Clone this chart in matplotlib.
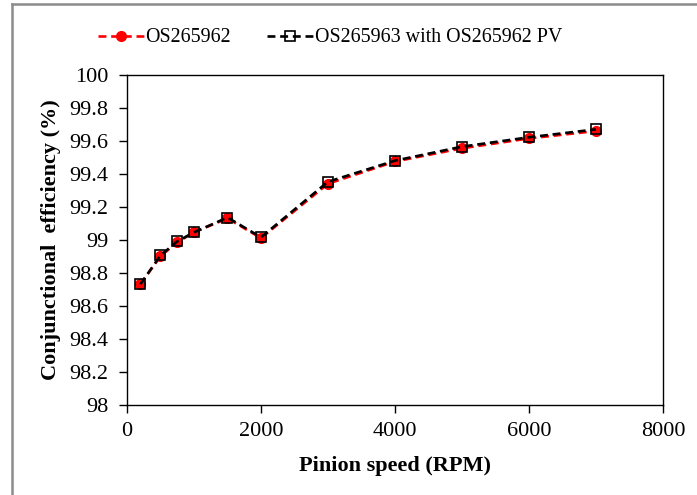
import matplotlib
matplotlib.use("Agg")
import matplotlib.pyplot as plt
from matplotlib.lines import Line2D

# data
speed_rpm = [200, 500, 750, 1000, 1500, 2000, 3000, 4000, 5000, 6000, 7000]
eff_os265962 = [98.73, 98.90, 98.985, 99.045, 99.13, 99.01, 99.34, 99.475, 99.555, 99.615, 99.66]
eff_os265963_pv = [98.73, 98.905, 98.99, 99.045, 99.135, 99.015, 99.352, 99.48, 99.565, 99.622, 99.67]

x_ticks = [0, 2000, 4000, 6000, 8000]
y_ticks = [98, 98.2, 98.4, 98.6, 98.8, 99, 99.2, 99.4, 99.6, 99.8, 100]
y_tick_labels = ["98", "98.2", "98.4", "98.6", "98.8", "99", "99.2", "99.4", "99.6", "99.8", "100"]

plt.rcParams['font.family'] = ['Liberation Serif', 'DejaVu Serif']

fig = plt.figure(figsize=(6.97, 4.95), dpi=100)
ax = fig.add_axes([0.1822, 0.1828, 0.9512 - 0.1822, 0.8485 - 0.1828])

dash = (0, (3, 1.8))
ax.plot(speed_rpm, eff_os265962, color='red', linestyle=dash, linewidth=1.9,
        marker='o', markersize=7, markerfacecolor='red', markeredgecolor='red',
        label='OS265962', zorder=3)
ax.plot(speed_rpm, eff_os265963_pv, color='black', linestyle=dash, linewidth=1.9,
        marker='s', markersize=6.5, markerfacecolor='none', markeredgecolor='black',
        markeredgewidth=1.2, label='OS265963 with OS265962 PV', zorder=4)

ax.set_xlim(0, 8000)
ax.set_ylim(98, 100)
ax.set_xticks(x_ticks)
ax.set_yticks(y_ticks)
ax.set_yticklabels(y_tick_labels)
ax.tick_params(direction='out', length=5.5, width=1, labelsize=16)
ax.tick_params(axis='x', pad=7)
ax.tick_params(axis='y', pad=8)

for side in ['top', 'right', 'bottom', 'left']:
    ax.spines[side].set_linewidth(1)
    ax.spines[side].set_color('black')

ax.set_xlabel('Pinion speed (RPM)', fontsize=16, fontweight='bold', labelpad=11)
ax.set_ylabel('Conjunctional  efficiency (%)', fontsize=16, fontweight='bold', labelpad=6)

fig.legend(loc='center', bbox_to_anchor=(330 / 697, 1 - 38 / 495), ncol=2,
           frameon=False, fontsize=14.4, handlelength=2.3, handletextpad=0.1,
           columnspacing=1.8)

# partial grey frame around the figure, as in the source image
fig.add_artist(Line2D([12 / 697, 12 / 697], [0, 1 - 4 / 495], transform=fig.transFigure,
                      color='#8c8c8c', linewidth=1.8))
fig.add_artist(Line2D([12 / 697, 1], [1 - 4 / 495, 1 - 4 / 495], transform=fig.transFigure,
                      color='#8c8c8c', linewidth=1.8))

fig.savefig('out.png', dpi=100)
